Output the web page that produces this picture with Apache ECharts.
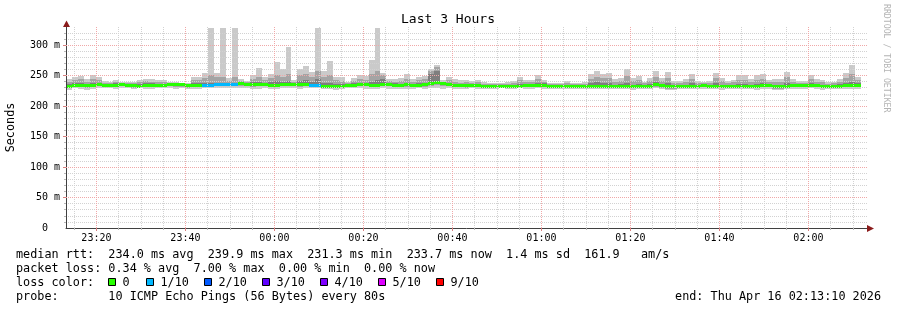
<!DOCTYPE html>
<html>
<head>
<meta charset="utf-8">
<script src="https://cdn.jsdelivr.net/npm/echarts@6/dist/echarts.min.js"></script>
<style>
html,body{margin:0;padding:0;background:#fff;}
#chart{width:897px;height:310px;}
</style>
</head>
<body>
<div id="chart"></div>
<script>
// ---------------- data ----------------
const STEP_SECONDS = 80;          // one bar per 80 s step
const WINDOW_SECONDS = 10800;     // 3 hours, 23:13:10 .. 02:13:10
const FIRST_MINOR_SEC = 110;      // 23:15:00 relative to window start
const FIRST_MAJOR_SEC = 410;      // 23:20:00 relative to window start
const MINOR_STEP_SEC = 300;
const MAJOR_STEP_SEC = 1200;
const timeTickLabels = ['23:20','23:40','00:00','00:20','00:40','01:00','01:20','01:40','02:00'];
const yTickValues = [0, 50, 100, 150, 200, 250, 300];
const yTickLabels = ['0  ', '50 m', '100 m', '150 m', '200 m', '250 m', '300 m'];
const Y_MAX = 329.5;

// ping distribution per step (ms): lowest, 2nd, 3rd, median, 8th, 9th, highest
const pingMin = [
227,229,228,226.5,228,229,229,229.5,228.5,230,229,228,229,228.5,228,229.5,230,229,228,229,228,228.5,
228,229,229.5,229,230,229,229.5,230,229,228,228.5,229,228,228.5,229,230,229,228,229,229.5,229,228,227.5,
227,227.5,229,229,229,228.5,227.5,228.5,229,228,228.5,227.5,228,228.5,229,228.5,229,229.5,228,229,228.5,228,228,
229,228.5,227.5,228,228,229,228.5,228,229,228.5,228,229,228.5,227.5,228,227.5,228,228,228.5,228,227.5,228,228.5,
228,227.5,228,228.5,227,228,227.5,228,229,227.5,226.5,226.5,227.5,228,227.5,228,228,228,227.5,227,228,228,227.5,
227.5,228,226.5,228,228,227,226.5,227.5,228,228,228,229,228,227,227.5,228,228,228.5,228,228.5];
const ping2 = [
229,231,230.5,229.5,231,232,231,231,231,232,230.5,230,230,231,231,230.5,231,232,231,231.5,230,230.5,
230.5,230.5,231,232,232,232,232,233,232,231,232,232,231,231,232,232.5,232,231.5,232.5,231.5,231,230,229.5,
229,229.5,231,231.5,232,232,230.5,231,232,232,231,230.5,231,231,231,231.5,232.5,234,232,232,231,230.5,230,
231,231,229.5,229.5,230,230,230,229.5,230,230.5,230.5,231,231,229.5,230,229.5,229.5,229.5,230,230,230,229.5,230,
230,229.5,229.5,230,229,229.5,230,230,231.5,230,228.5,228.5,229.5,229.5,229.5,230,230.5,230,229.5,229.5,230,230,229.5,
229.5,229.5,229,230.5,230.5,228.5,228.5,230,230.5,230.5,230.5,231,230.5,229.5,229.5,229.5,230,230.5,230.5,230.5];
const ping3 = [
231,232.5,232.5,232,232.5,233.5,232,232,232.5,233.5,231.5,231.5,231,232.5,232.5,231.5,232,233.5,234,233,231.5,231.5,
232,231.5,232,233,233,233,233.5,235,234.5,234,234,233.5,232.5,232.5,233.5,234,234,234,234.5,232.5,232.5,231,231,
230.5,231,232.5,232.5,233.5,233.5,232.5,232.5,233.5,234,232.5,232,233,232.5,232.5,233,235,237,235,233.5,232,231.5,231.5,
232,232,230.5,230.5,231,231,231,230.5,230.5,231.5,232,232.5,232.5,231,231,230.5,230.5,230.5,230.5,231,231,230.5,230.5,
231,230.5,230.5,230.5,230.5,230.5,231,231,233,231.5,230,230,230.5,230.5,230.5,231,231.5,231,230.5,230.5,231,231,230.5,
230.5,230.5,230.5,231.5,231.5,230,230,231,231.5,231.5,231.5,232.5,231.5,231,230.5,230.5,231,231.5,231.5,231.5];
const median = [
232.5,234,234,233.5,234,235,233.5,233.5,234,235,233,233,232.5,234,234,233,233,235,235.5,234.5,233,233,
233.5,233,233,234.5,234.5,234.5,235,236.5,236,236,235.5,235,234,234,235,235.5,235.5,235.5,236,234,234,232.5,232.5,
232,232.5,234,234,235,235,234,234,235,235.5,234,234,234.5,234,234,234.5,236.5,239,237,235,233.5,233,233,
233.5,233.5,232,232,232.5,232.5,232.5,232,232,233,233.5,234,234,232.5,232.5,232,232,232,232,232.5,232.5,232,232,
232.5,232,232,232,232,232,232.5,232.5,234.5,233,231.5,231.5,232,232,232,232.5,233,232.5,232,232,232.5,232.5,232,
232,232,232,233,233,231.5,231.5,232.5,233,233,233,234,233,232.5,232,232,232.5,233,233,233];
const ping8 = [
236,238,238,236.5,238,238.5,236,235.5,237,236.5,235,235.5,235.5,237,237,236,236,237,237,236,234.5,237,
237,237,238,238,238,237,238,238.5,238,239,240,238,239,241,240,241,238,241,243,240,244,238,238,
236,236,235.5,237,238,238,240,243,245,238,237,236.5,238,236.5,237,238,252,258,239,238,236,235,235.5,
235.5,236,234,234,234.5,234.5,234.5,234.5,236,235.5,236,238,237,234,234,234,235,233.5,234,234.5,238,240,238,
238,235,235.5,238,235,236,234.5,235.5,239,236,237,234,234.5,235,237,235,235,235,238,235,234.5,235,236,
236,235,236,238,236,234,234,238,235.5,235,235.5,238,236,235,234,234,235.5,238,240,237];
const ping9 = [
240,243,244,240,244,242,238,237.5,239,237.5,237,238,239,241,240,239,239,238,238.5,237,236,242,
243,246,250,247,248,241,247,241,239.5,245,248,243,246,251,248,252,240,250,252,248,258,248,250,
242,241,237,241,244,243,252,258,250,241,239.5,241,245,240,242,244,257,264,240,242,240,238.5,239,
238,239,236,235.5,236,236,236.5,237,242,239,239,244,239,235.5,236,235.5,238,235.5,236,236.5,245,248,246,
246,240,241,249,241,243,237,241,248,241,246,237,237.5,240,245,238,237,238,246,241,238,239,243,
243,240,243,245,239,240,239,247,240,237.5,238,244,240,239,236.5,237,240,246,252,243];
const pingMax = [
245,248,249,245,251,248,241,240,242,239,239,240,242,245,245,243,242,240,240,238,237,248,
248,254,328,254,328,246,328,244,241,251,262,247,252,272,260,297,243,261,265,256,328,257,274,
248,247,239,246,250,249,276,328,254,245,244,246,252,245,247,249,260,268,242,247,245,242,242,
241,243,239,238,238,238,239,241,248,243,243,251,243,238,238,238,241,238,238,239,252,257,253,
254,245,246,260,246,249,240,246,257,246,256,241,241,245,252,241,240,241,254,246,241,242,250,
250,245,250,252,243,245,244,256,244,241,241,250,245,243,239,240,245,254,267,248];
// packet loss class per step (index into lossColors)
const lossIndex = [
0,0,0,0,0,0,0,0,0,0,0,0,0,0,0,0,0,0,0,0,0,0,
0,1,1,1,1,1,1,0,0,0,0,0,0,0,0,0,0,0,0,1,1,0,0,
0,0,0,0,0,0,0,0,0,0,0,0,0,0,0,0,0,0,0,0,0,0,0,
0,0,0,0,0,0,0,0,0,0,0,0,0,0,0,0,0,0,0,0,0,0,0,
0,0,0,0,0,0,0,0,0,0,0,0,0,0,0,0,0,0,0,0,0,0,0,
0,0,0,0,0,0,0,0,0,0,0,0,0,0,0,0,0,0,0,0];
const lossColors = ['#26ff00','#00b8ff','#0059ff','#5e00ff','#7e00ff','#dd00ff','#ff0000'];
const lossLabels = ['0','1/10','2/10','3/10','4/10','5/10','9/10'];

const titleText = 'Last 3 Hours';
const yAxisTitle = 'Seconds';
const watermark = 'RRDTOOL / TOBI OETIKER';
const statLines = [
  'median rtt:  234.0 ms avg  239.9 ms max  231.3 ms min  233.7 ms now  1.4 ms sd  161.9   am/s',
  'packet loss: 0.34 % avg  7.00 % max  0.00 % min  0.00 % now'
];
const lossColorCaption = 'loss color:';
const probeLine = 'probe:       10 ICMP Echo Pings (56 Bytes) every 80s';
const endLine = 'end: Thu Apr 16 02:13:10 2026';

// ---------------- chart ----------------
const FONT = 'DejaVu Sans Mono';
const majorX = timeTickLabels.map((_, k) => FIRST_MAJOR_SEC + MAJOR_STEP_SEC * k);
const minorX = [];
for (let t = FIRST_MINOR_SEC; t < WINDOW_SECONDS; t += MINOR_STEP_SEC) {
  if (majorX.indexOf(t) < 0) minorX.push(t);
}
const majorY = yTickValues.filter(v => v > 0);
const minorY = [];
for (let v = 10; v < Y_MAX; v += 10) { if (v % 50 !== 0) minorY.push(v); }

const MINOR_COLOR = '#d2d2d2';
const MAJOR_COLOR = '#f0a8a8';

const seriesData = pingMax.map((_, i) => [
  i * STEP_SECONDS, pingMin[i], ping2[i], ping3[i], median[i], ping8[i], ping9[i], pingMax[i], lossIndex[i]
]);

function renderStep(params, api) {
  const t = api.value(0);
  const left = Math.round(api.coord([t, 0])[0]);
  const right = Math.round(api.coord([t + STEP_SECONDS, 0])[0]);
  const py = v => api.coord([t, v])[1];
  const band = (lo, hi, fill) => {
    const y1 = Math.round(py(hi)), y2 = Math.round(py(lo));
    return { type: 'rect', shape: { x: left, y: Math.min(y1, y2), width: right - left, height: Math.max(Math.abs(y2 - y1), 1) }, style: { fill: fill } };
  };
  const ym = py(api.value(4));
  return {
    type: 'group',
    children: [
      band(api.value(1), api.value(7), '#cacaca'),
      band(api.value(2), api.value(6), '#a4a4a4'),
      band(api.value(3), api.value(5), '#7e7e7e'),
      { type: 'rect', shape: { x: left, y: Math.round(ym - 1.5), width: right - left, height: 3 }, style: { fill: lossColors[api.value(8)] } }
    ]
  };
}

const textStyle = (text, x, y, size, align, extra) => Object.assign({
  type: 'text', x: x, y: y, silent: true, z: 50,
  style: { text: text, fontFamily: FONT, fontSize: size, fill: '#000', align: align || 'left', verticalAlign: 'middle' }
}, extra || {});

const graphics = [
  textStyle(titleText, 448, 20, 13, 'center'),
  textStyle(yAxisTitle, 11, 127.5, 11.8, 'center', { rotation: Math.PI / 2 }),
  { type: 'text', x: 886, y: 4, rotation: -Math.PI / 2, silent: true, z: 50,
    style: { text: watermark, fontFamily: FONT, fontSize: 8.2, fill: '#b4b4b4', align: 'left', verticalAlign: 'middle' } },
  textStyle(statLines[0], 16, 255, 11.8),
  textStyle(statLines[1], 16, 269, 11.8),
  textStyle(lossColorCaption, 16, 283, 11.8),
  textStyle(probeLine, 16, 297, 11.8),
  textStyle(endLine, 881, 297, 11.8, 'right'),
  // axis arrows
  { type: 'polygon', z: 60, silent: true, shape: { points: [[63, 27], [66.5, 20.5], [70, 27]] }, style: { fill: '#8b1c1c' } },
  { type: 'polygon', z: 60, silent: true, shape: { points: [[867, 225], [874, 228.5], [867, 232]] }, style: { fill: '#8b1c1c' } }
];
const boxX = [108, 146, 204, 262, 320, 378, 436];
lossLabels.forEach((lab, k) => {
  graphics.push({ type: 'rect', z: 50, silent: true, shape: { x: boxX[k] + 0.5, y: 278.5, width: 7, height: 7 },
    style: { fill: lossColors[k], stroke: '#000', lineWidth: 1 } });
  graphics.push(textStyle(lab, boxX[k] + 14.5, 283, 11.8));
});

const chart = echarts.init(document.getElementById('chart'), null, { renderer: 'canvas' });
chart.setOption({
  animation: false,
  backgroundColor: '#ffffff',
  grid: { left: 66, right: 30, top: 27, bottom: 82, containLabel: false },
  xAxis: [
    { type: 'value', min: 0, max: WINDOW_SECONDS, position: 'bottom', z: 10,
      axisLine: { show: true, lineStyle: { color: '#404040', width: 1 } },
      axisTick: { show: true, customValues: minorX, length: 2, lineStyle: { color: '#b8b8b8' } },
      axisLabel: { show: false },
      splitLine: { show: true, lineStyle: { color: MINOR_COLOR, type: [1, 1], width: 1 } } },
    { type: 'value', min: 0, max: WINDOW_SECONDS, position: 'bottom', z: 11,
      axisLine: { show: false },
      axisTick: { show: true, customValues: majorX, length: 3, lineStyle: { color: '#d88080' } },
      axisLabel: { show: true, customValues: majorX, margin: 5, color: '#000', fontFamily: FONT, fontSize: 10,
        formatter: v => { const k = majorX.indexOf(Math.round(v)); return k >= 0 ? timeTickLabels[k] : ''; } },
      splitLine: { show: true, lineStyle: { color: MAJOR_COLOR, type: [1, 1], width: 1 } } }
  ],
  yAxis: [
    { type: 'value', min: 0, max: Y_MAX, position: 'left', z: 10,
      axisLine: { show: true, lineStyle: { color: '#404040', width: 1 } },
      axisTick: { show: true, customValues: minorY, length: 2, lineStyle: { color: '#b8b8b8' } },
      axisLabel: { show: false },
      splitLine: { show: true, lineStyle: { color: MINOR_COLOR, type: [1, 1], width: 1 } } },
    { type: 'value', min: 0, max: Y_MAX, position: 'left', z: 11,
      axisLine: { show: false },
      axisTick: { show: true, customValues: majorY, length: 3, lineStyle: { color: '#d88080' } },
      axisLabel: { show: true, customValues: yTickValues, margin: 6, color: '#000', fontFamily: FONT, fontSize: 10,
        formatter: v => { const k = yTickValues.indexOf(Math.round(v)); return k >= 0 ? yTickLabels[k] : ''; } },
      splitLine: { show: true, lineStyle: { color: MAJOR_COLOR, type: [1, 1], width: 1 } } }
  ],
  series: [{
    type: 'custom', xAxisIndex: 0, yAxisIndex: 0, z: 2, silent: true,
    encode: { x: 0, y: [1, 7] },
    data: seriesData,
    renderItem: renderStep
  }],
  graphic: graphics
});
</script>
</body>
</html>
